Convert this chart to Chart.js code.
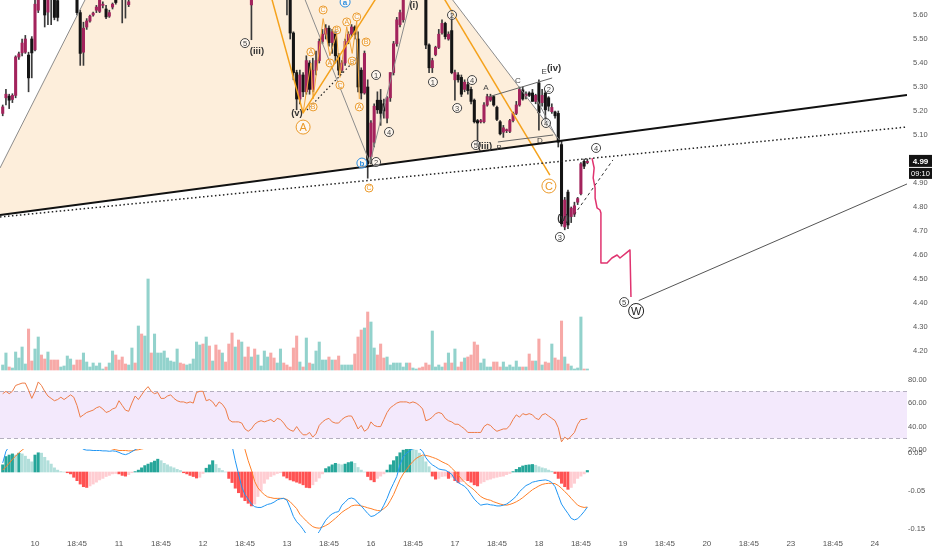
<!DOCTYPE html>
<html>
<head>
<meta charset="utf-8">
<script src="https://cdn.jsdelivr.net/npm/chart.js@4.4.1/dist/chart.umd.min.js"></script>
<style>
  html, body { margin: 0; padding: 0; background: #fff; }
  #wrap { position: relative; width: 932px; height: 550px; overflow: hidden; background: #fff; }
  #wrap canvas { position: absolute; left: 0; }
</style>
</head>
<body>
<div id="wrap">
  <canvas id="price" width="932" height="373" style="top:0px"></canvas>
  <canvas id="rsi" width="932" height="84" style="top:373px"></canvas>
  <canvas id="macd" width="932" height="101" style="top:449px"></canvas>
</div>
<script>
// ---- 15-minute bars, index 0 = first bar of the 10th ----
const firstBar = -10;

const opens = [
  5.19,5.255,5.262,5.248,5.265,5.425,5.442,5.445,5.433,5.50,
  5.455,5.62,5.72,5.69,5.612,5.70,5.69,5.66,5.67,5.71,
  5.75,5.77,5.79,5.72,5.61,5.445,5.55,5.575,5.60,5.62,
  5.615,5.64,5.625,5.595,5.633,5.67,5.70,5.70,5.69,5.643,
  5.67,5.71,5.69,5.77,5.74,5.79,5.88,5.85,5.91,5.93,
  5.94,5.955,5.96,5.975,5.98,6.01,5.99,5.98,5.99,5.99,
  6.01,6.04,6.06,6.00,6.04,5.98,5.995,5.95,5.92,5.95,
  5.93,5.85,5.78,5.81,5.74,5.77,5.73,5.642,5.71,5.69,
  5.74,5.755,5.785,5.795,5.77,5.75,5.765,5.79,5.75,5.68,
  5.525,5.36,5.25,5.35,5.28,5.40,5.29,5.37,5.41,5.49,
  5.52,5.545,5.485,5.53,5.43,5.37,5.40,5.49,5.52,5.55,
  5.50,5.37,5.275,5.30,5.01,5.07,5.245,5.245,5.23,5.17,
  5.255,5.36,5.48,5.56,5.58,5.68,5.73,5.72,5.75,5.78,
  5.73,5.69,5.475,5.38,5.435,5.465,5.525,5.565,5.50,5.535,
  5.33,5.35,5.34,5.29,5.31,5.29,5.245,5.16,5.155,5.155,
  5.225,5.245,5.26,5.215,5.155,5.112,5.118,5.115,5.16,5.19,
  5.225,5.288,5.262,5.275,5.275,5.24,5.317,5.235,5.275,5.255,
  5.197,5.196,5.19,5.06,4.717,4.862,4.76,4.77,4.82,4.855,
  4.99,4.985
];
const highs = [
  5.225,5.29,5.27,5.272,5.43,5.445,5.50,5.515,5.445,5.51,
  5.665,5.70,5.75,5.72,5.70,5.72,5.71,5.69,5.72,5.76,
  5.79,5.80,5.80,5.74,5.62,5.57,5.585,5.60,5.612,5.64,
  5.68,5.655,5.64,5.62,5.65,5.69,5.72,5.72,5.71,5.67,
  5.72,5.72,5.78,5.79,5.80,5.90,5.89,5.93,5.94,5.95,
  5.97,5.97,5.98,5.99,6.02,6.02,6.00,5.995,6.00,6.02,
  6.05,6.07,6.07,6.05,6.045,6.00,6.00,5.96,5.96,5.955,
  5.935,5.86,5.82,5.815,5.78,5.775,5.74,5.69,5.72,5.75,
  5.76,5.79,5.80,5.80,5.775,5.77,5.80,5.795,5.76,5.69,
  5.53,5.37,5.37,5.36,5.43,5.41,5.42,5.45,5.50,5.54,
  5.56,5.555,5.54,5.535,5.44,5.41,5.50,5.53,5.56,5.555,
  5.53,5.38,5.45,5.33,5.16,5.23,5.28,5.29,5.25,5.26,
  5.36,5.49,5.59,5.62,5.70,5.74,5.77,5.79,5.80,5.79,
  5.74,5.70,5.48,5.42,5.47,5.54,5.58,5.57,5.53,5.62,
  5.37,5.36,5.35,5.33,5.32,5.30,5.25,5.165,5.165,5.235,
  5.27,5.27,5.265,5.22,5.16,5.14,5.125,5.165,5.195,5.24,
  5.30,5.30,5.28,5.28,5.29,5.27,5.33,5.29,5.285,5.26,
  5.23,5.20,5.20,5.075,4.84,4.87,4.80,4.82,4.84,4.985,
  5.00,5.00
];
const lows = [
  5.18,5.225,5.21,5.235,5.255,5.415,5.43,5.44,5.28,5.338,
  5.45,5.61,5.675,5.55,5.56,5.56,5.58,5.575,5.668,5.70,
  5.73,5.75,5.70,5.60,5.39,5.39,5.54,5.57,5.595,5.61,
  5.61,5.63,5.585,5.59,5.625,5.645,5.665,5.567,5.587,5.635,
  5.668,5.68,5.685,5.72,5.73,5.78,5.84,5.84,5.89,5.91,
  5.92,5.94,5.95,5.96,5.97,5.98,5.97,5.97,5.98,5.985,
  6.00,6.03,5.99,5.99,5.97,5.97,5.94,5.91,5.91,5.92,
  5.84,5.77,5.77,5.73,5.73,5.72,5.67,5.497,5.67,5.685,
  5.73,5.75,5.77,5.76,5.74,5.745,5.76,5.74,5.60,5.50,
  5.33,5.205,5.23,5.26,5.27,5.27,5.28,5.35,5.40,5.48,
  5.50,5.47,5.44,5.40,5.35,5.36,5.39,5.48,5.51,5.50,
  5.28,5.25,5.27,4.92,4.98,5.05,5.19,5.14,5.17,5.15,
  5.24,5.35,5.47,5.55,5.57,5.67,5.70,5.71,5.74,5.72,
  5.67,5.46,5.36,5.36,5.43,5.46,5.52,5.50,5.495,5.355,
  5.245,5.32,5.26,5.28,5.27,5.23,5.15,5.06,5.15,5.15,
  5.22,5.24,5.22,5.16,5.10,5.09,5.11,5.11,5.155,5.185,
  5.22,5.245,5.25,5.26,5.24,5.23,5.12,5.22,5.15,5.20,
  5.19,5.17,5.05,4.72,4.705,4.71,4.735,4.76,4.81,4.85,
  4.96,4.98
];
const closes = [
  5.217,5.27,5.245,5.265,5.425,5.438,5.483,5.50,5.338,5.442,
  5.645,5.675,5.69,5.60,5.68,5.67,5.59,5.59,5.71,5.75,
  5.78,5.79,5.72,5.61,5.44,5.545,5.575,5.595,5.608,5.633,
  5.665,5.645,5.592,5.61,5.645,5.652,5.68,5.675,5.668,5.655,
  5.71,5.69,5.77,5.74,5.79,5.88,5.85,5.91,5.93,5.94,
  5.96,5.965,5.975,5.985,6.01,5.99,5.98,5.99,5.995,6.01,
  6.04,6.06,6.00,6.04,5.98,5.995,5.95,5.92,5.95,5.93,
  5.85,5.78,5.81,5.74,5.77,5.73,5.68,5.668,5.69,5.74,
  5.755,5.785,5.795,5.77,5.75,5.765,5.79,5.75,5.68,5.525,
  5.36,5.25,5.35,5.28,5.41,5.29,5.37,5.41,5.49,5.52,
  5.545,5.485,5.53,5.43,5.37,5.40,5.49,5.52,5.55,5.52,
  5.30,5.275,5.44,4.98,5.15,5.22,5.205,5.19,5.20,5.255,
  5.36,5.48,5.58,5.61,5.68,5.73,5.72,5.77,5.78,5.73,
  5.69,5.475,5.38,5.41,5.465,5.52,5.565,5.51,5.52,5.36,
  5.36,5.33,5.27,5.32,5.285,5.24,5.155,5.15,5.16,5.225,
  5.26,5.26,5.225,5.165,5.105,5.13,5.122,5.16,5.19,5.225,
  5.29,5.25,5.27,5.265,5.24,5.265,5.192,5.265,5.205,5.22,
  5.215,5.18,5.07,4.73,4.829,4.725,4.795,4.805,4.835,4.98,
  4.97,4.99
];
const volumes = [
  50,170,30,20,180,120,230,60,410,90,
  210,330,150,110,180,100,100,100,30,40,
  140,110,50,100,100,170,80,30,70,40,
  70,10,30,70,190,150,100,130,60,50,
  220,70,440,360,340,910,170,360,170,170,
  190,120,90,80,210,70,60,50,60,110,
  280,250,260,330,240,90,250,200,170,80,
  260,370,230,300,280,130,230,130,210,150,
  40,190,130,170,120,70,210,70,50,30,
  220,340,80,30,320,70,60,190,280,100,
  100,130,100,100,140,50,50,50,50,160,
  330,400,420,580,480,220,150,260,120,130,
  50,70,70,70,30,70,70,20,10,20,
  30,70,50,390,30,50,30,70,170,70,
  210,30,80,120,130,150,280,250,70,110,
  30,30,80,80,30,80,30,50,30,90,
  30,30,30,160,90,90,310,50,80,70,
  260,120,100,490,130,60,40,10,20,530,
  10,10
];
const rsiValues = [
  68,70,68,70,75,76,77,77,71,64,
  70,78,75,70,66,64,62,63,65,63,
  65,67,65,58,48,50,52,53,54,56,
  57,55,52,53,55,56,62,58,54,53,
  60,66,63,67,71,74,70,68,69,64,
  64,66,67,64,62,61,61,60,61,60,
  69,70,70,62,63,61,57,61,59,55,
  46,44,44,44,43,38,36,38,42,44,
  45,44,45,46,44,47,46,43,39,37,
  36,40,36,33,33,35,31,34,41,44,
  46,47,44,43,43,46,48,49,49,44,
  38,41,36,38,44,41,40,40,46,52,
  56,58,60,61,61,61,60,61,60,58,
  55,45,46,48,51,52,51,47,45,44,
  42,42,40,38,35,35,35,35,35,40,
  42,41,38,36,37,38,38,41,46,50,
  48,51,50,51,50,47,46,50,51,49,
  47,45,39,27,31,29,32,35,42,46,
  46,47
];
const macdLine = [
  0.024,0.055,0.068,0.082,0.087,0.101,0.106,0.107,0.105,0.103,
  0.126,0.138,0.143,0.137,0.132,0.126,0.118,0.113,0.109,0.108,
  0.105,0.101,0.090,0.079,0.067,0.060,0.058,0.058,0.057,0.057,
  0.057,0.056,0.056,0.055,0.056,0.055,0.052,0.048,0.046,0.049,
  0.054,0.059,0.064,0.072,0.080,0.087,0.094,0.102,0.111,0.111,
  0.107,0.106,0.103,0.102,0.099,0.097,0.091,0.088,0.083,0.079,
  0.073,0.073,0.082,0.096,0.107,0.121,0.113,0.104,0.098,0.094,
  0.085,0.070,0.030,-0.005,-0.040,-0.060,-0.072,-0.085,-0.092,-0.094,
  -0.094,-0.090,-0.086,-0.084,-0.080,-0.074,-0.071,-0.070,-0.075,-0.095,
  -0.118,-0.132,-0.141,-0.152,-0.165,-0.175,-0.178,-0.170,-0.158,-0.142,
  -0.128,-0.118,-0.111,-0.107,-0.105,-0.088,-0.080,-0.071,-0.069,-0.072,
  -0.082,-0.090,-0.100,-0.110,-0.118,-0.116,-0.110,-0.104,-0.088,-0.070,
  -0.048,-0.030,-0.012,0.020,0.040,0.050,0.056,0.062,0.065,0.062,
  0.055,0.038,0.027,0.019,0.014,0.008,0.006,0.005,0.0,-0.006,
  -0.020,-0.028,-0.033,-0.038,-0.047,-0.060,-0.072,-0.081,-0.088,-0.086,
  -0.085,-0.087,-0.088,-0.090,-0.090,-0.088,-0.085,-0.079,-0.072,-0.064,
  -0.052,-0.044,-0.036,-0.032,-0.027,-0.025,-0.023,-0.022,-0.021,-0.023,
  -0.028,-0.039,-0.062,-0.085,-0.098,-0.110,-0.123,-0.127,-0.124,-0.115,
  -0.105,-0.093
];
const signalLine = [
  0.005,0.014,0.023,0.034,0.042,0.051,0.058,0.065,0.071,0.076,
  0.081,0.087,0.093,0.098,0.102,0.105,0.107,0.108,0.108,0.108,
  0.107,0.106,0.104,0.102,0.099,0.099,0.099,0.095,0.089,0.084,
  0.078,0.073,0.068,0.064,0.061,0.059,0.057,0.057,0.057,0.056,
  0.056,0.058,0.059,0.061,0.063,0.066,0.069,0.073,0.077,0.081,
  0.084,0.087,0.089,0.091,0.092,0.093,0.093,0.093,0.092,0.091,
  0.089,0.087,0.086,0.086,0.088,0.091,0.093,0.094,0.094,0.094,
  0.094,0.093,0.090,0.085,0.075,0.060,0.030,0.005,-0.025,-0.042,
  -0.052,-0.060,-0.066,-0.068,-0.070,-0.070,-0.070,-0.070,-0.073,-0.079,
  -0.088,-0.097,-0.112,-0.121,-0.130,-0.138,-0.145,-0.148,-0.149,-0.146,
  -0.142,-0.137,-0.130,-0.123,-0.115,-0.107,-0.101,-0.096,-0.090,-0.088,
  -0.088,-0.090,-0.092,-0.095,-0.097,-0.100,-0.102,-0.103,-0.097,-0.090,
  -0.076,-0.060,-0.040,-0.020,-0.005,0.006,0.018,0.028,0.036,0.041,
  0.045,0.044,0.042,0.039,0.036,0.032,0.027,0.023,0.019,0.010,
  0.002,-0.008,-0.018,-0.027,-0.035,-0.041,-0.048,-0.057,-0.065,-0.070,
  -0.073,-0.075,-0.079,-0.082,-0.085,-0.087,-0.088,-0.086,-0.083,-0.079,
  -0.074,-0.068,-0.061,-0.054,-0.047,-0.042,-0.037,-0.033,-0.031,-0.030,
  -0.030,-0.031,-0.036,-0.043,-0.052,-0.060,-0.070,-0.079,-0.088,-0.092,
  -0.094,-0.093
];
const macdHist = [
  0.019,0.041,0.045,0.048,0.045,0.050,0.048,0.042,0.034,0.027,
  0.045,0.051,0.050,0.039,0.030,0.021,0.011,0.005,0.001,0.0,
  -0.002,-0.005,-0.014,-0.023,-0.032,-0.039,-0.041,-0.037,-0.032,-0.027,
  -0.021,-0.017,-0.012,-0.009,-0.005,-0.004,-0.005,-0.009,-0.011,-0.007,
  -0.002,0.001,0.005,0.011,0.017,0.021,0.025,0.029,0.034,0.030,
  0.023,0.019,0.014,0.011,0.007,0.004,-0.002,-0.005,-0.009,-0.012,
  -0.016,-0.014,-0.004,0.010,0.019,0.030,0.020,0.010,0.004,0.0,
  -0.017,-0.028,-0.043,-0.055,-0.067,-0.076,-0.083,-0.090,-0.085,-0.065,
  -0.050,-0.030,-0.019,-0.012,-0.008,-0.004,-0.002,-0.011,-0.016,-0.021,
  -0.024,-0.027,-0.030,-0.034,-0.041,-0.042,-0.034,-0.025,-0.016,-0.005,
  0.009,0.014,0.019,0.023,0.021,0.019,0.021,0.025,0.027,0.023,
  0.012,0.005,0.0,-0.012,-0.021,-0.026,-0.017,-0.011,-0.005,0.005,
  0.019,0.030,0.041,0.051,0.058,0.060,0.062,0.060,0.058,0.050,
  0.041,0.027,0.014,-0.011,-0.019,-0.017,-0.012,-0.011,-0.017,-0.014,
  -0.023,-0.028,-0.026,-0.021,-0.023,-0.027,-0.034,-0.037,-0.030,-0.026,
  -0.021,-0.019,-0.016,-0.014,-0.012,-0.011,-0.007,-0.004,0.001,0.007,
  0.012,0.016,0.018,0.019,0.020,0.018,0.014,0.011,0.009,0.005,
  0.002,-0.004,-0.017,-0.030,-0.039,-0.046,-0.041,-0.030,-0.017,-0.011,
  -0.005,0.004
];

// axis ticks and labels
const priceTicks = [4.2,4.3,4.4,4.5,4.6,4.7,4.8,4.9,5.0,5.1,5.2,5.3,5.4,5.5,5.6];
const rsiTicks = [20,40,60,80];
const macdTicks = [0.05,-0.05,-0.15];
const dayLabels = ['10','11','12','13','16','17','18','19','20','23','24'];
const midSessionLabel = '18:45';
const barsPerDay = 26;
const countdown = '09:10';

// visible window (bar index) and value ranges of each pane
const viewMin = -10.84, viewMax = 269.96;
const priceMin = 4.1083, priceMax = 5.6625;
const volMin = -30, volMax = 3700;
const rsiMin = 14.11, rsiMax = 85.6;
const macdMin = -0.1618, macdMax = 0.061;

// ---- wave-count drawings, anchored in (bar index, price) ----
const wedgeOutline = [[-10.84,4.9625],[23.3,5.871],[117.5,5.871],[162.54,5.0757],[-10.84,4.7667]];
const wedgeLeft = [[-10.84,4.9625],[23.3,5.871]];
const wedgeRight = [[117.5,5.871],[162.54,5.0757]];
const supportLine = [[-10.84,4.7667],[269.96,5.2667]];
const dottedSupport = [[-10.84,4.7583],[269.96,5.1333]];
const legIntoB = [[82.04,5.717],[103.7,4.983]];
const legOutOfB = [[103.7,4.983],[118.6,5.7875]];
const orangeAB = [[71.7,5.746],[83.0,5.192],[109.2,5.746]];
const orangeToC = [[123.2,5.746],[159.4,4.933]];
const orangeSubwaves = [[83.0,5.192],[85.4,5.40],[86.1,5.25],[89.2,5.585],[91.3,5.43],[93.4,5.52],[94.4,5.34],[96.5,5.55],[98.2,5.44],[99.6,5.575],[100.4,5.25]];
const dottedChannel = [[84.2,5.204],[99.7,5.421]];
const triangleUpper = [[140.2,5.258],[160.1,5.3375]];
const triangleLower = [[143.3,5.071],[160.4,5.10]];
const triangleLegE = [[155.4,5.246],[161.6,5.0875]];
const dashedRebound = [[166.9,4.767],[178.9,4.996]];
const projectedPath = [[172.45,5.004],[173.1,4.9625],[172.8,4.921],[173.4,4.879],[173.4,4.8375],[174.0,4.796],[174.9,4.7875],[175.2,4.775],[175.2,4.567],[177.1,4.567],[178.6,4.5875],[180.2,4.60],[181.1,4.5875],[182.97,4.608],[184.2,4.621],[184.5,4.425]];
const wRecovery = [[186.9,4.41],[269.96,4.896]];

const waveLabels = [
  ['5',65.0,5.483,'num'], ['(iii)',68.7,5.45,'deg'], ['(v)',81.1,5.192,'deg'],
  ['A',83.0,5.133,'orangeBig'], ['A',85.4,5.446,'orange'], ['B',86.1,5.217,'orange'],
  ['C',89.2,5.621,'orange'], ['A',91.3,5.40,'orange'], ['B',93.4,5.5375,'orange'],
  ['C',94.4,5.308,'orange'], ['A',96.5,5.571,'orange'], ['B',98.2,5.408,'orange'],
  ['C',99.6,5.592,'orange'], ['B',102.5,5.4875,'orange'], ['A',100.4,5.217,'orange'],
  ['C',103.4,4.879,'orange'], ['b',101.2,4.983,'blue'], ['a',96.0,5.654,'blue'],
  ['1',105.6,5.35,'num'], ['4',109.6,5.1125,'num'], ['2',105.6,4.9875,'num'],
  ['(i)',117.3,5.642,'deg'], ['1',123.2,5.321,'num'], ['2',129.1,5.60,'num'],
  ['3',130.7,5.2125,'num'], ['4',135.3,5.329,'num'], ['5',136.5,5.058,'num'],
  ['(iii)',139.3,5.054,'deg'], ['A',139.6,5.30,'letter'], ['B',143.7,5.05,'letter'],
  ['C',149.5,5.329,'letter'], ['D',156.3,5.079,'letter'], ['E',157.6,5.367,'letter'],
  ['(iv)',160.7,5.379,'deg'], ['2',159.1,5.2917,'num'], ['4',158.2,5.15,'num'],
  ['C',159.1,4.8875,'orangeBig'], ['(v)',163.5,4.754,'deg'], ['3',162.5,4.675,'num'],
  ['4',173.7,5.046,'num'], ['5',182.4,4.404,'num'], ['W',186.1,4.3667,'numBig']
];

// ---- rendering ----
const FONT = "'Liberation Sans', Arial, sans-serif";
Chart.defaults.font.family = FONT;
Chart.defaults.color = '#555';

const barX = opens.map((_, k) => firstBar + k);
const rising = opens.map((o, k) => closes[k] >= o);

function zeroPadding(s) { s.paddingTop = 0; s.paddingBottom = 0; s.paddingLeft = 0; s.paddingRight = 0; }

function rightAxis(min, max, tickValues, pad) {
  return {
    position: 'right', min, max,
    grid: { display: false, drawTicks: false },
    border: { display: false },
    ticks: { autoSkip: false, padding: pad, font: { size: 7.5 }, color: '#555',
             callback: v => Number(v).toFixed(2) },
    afterBuildTicks(s) { s.ticks = tickValues.map(v => ({ value: v })); },
    afterFit(s) { s.width = 25; zeroPadding(s); }
  };
}
function hiddenTime() {
  return { type: 'linear', min: viewMin, max: viewMax, offset: false, display: false };
}
const baseOptions = {
  responsive: false, animation: false, events: [], devicePixelRatio: 1,
  layout: { padding: 0 },
  plugins: { legend: { display: false }, tooltip: { enabled: false } }
};

function clipArea(ctx, a) { ctx.beginPath(); ctx.rect(a.left, a.top, a.right - a.left, a.bottom - a.top); ctx.clip(); }
function tracePath(chart, pts) {
  const sx = chart.scales.x, sy = chart.scales.y, ctx = chart.ctx;
  ctx.beginPath();
  pts.forEach(([i, p], n) => {
    const X = sx.getPixelForValue(i), Y = sy.getPixelForValue(p);
    if (n) ctx.lineTo(X, Y); else ctx.moveTo(X, Y);
  });
}
function strokePath(chart, pts, color, width, dash) {
  const ctx = chart.ctx;
  tracePath(chart, pts);
  ctx.setLineDash(dash || []);
  ctx.strokeStyle = color; ctx.lineWidth = width; ctx.stroke();
  ctx.setLineDash([]);
}

const labelStyles = {
  num:       { r: 4.5, color: '#444', font: '7.5px' },
  numBig:    { r: 7.5, color: '#222', font: '11px' },
  orange:    { r: 4,   color: '#eb9a2a', font: '7px' },
  orangeBig: { r: 7,   color: '#eb9a2a', font: '11px' },
  blue:      { r: 5,   color: '#2b8de0', font: 'bold 8px' },
  deg:       { r: 0,   color: '#333', font: 'bold 9.5px' },
  letter:    { r: 0,   color: '#444', font: '8px' }
};
function drawLabel(chart, [text, i, p, kind]) {
  const ctx = chart.ctx, st = labelStyles[kind];
  const X = chart.scales.x.getPixelForValue(i), Y = chart.scales.y.getPixelForValue(p);
  if (st.r) {
    ctx.beginPath(); ctx.arc(X, Y, st.r, 0, Math.PI * 2);
    ctx.fillStyle = 'rgba(255,255,255,0.55)'; ctx.fill();
    ctx.strokeStyle = st.color; ctx.lineWidth = 1; ctx.stroke();
  }
  ctx.fillStyle = st.color; ctx.font = st.font + ' ' + FONT;
  ctx.textAlign = 'center'; ctx.textBaseline = 'middle';
  ctx.fillText(text, X, Y + 0.5);
}

const waveDrawings = {
  id: 'waveDrawings',
  beforeDatasetsDraw(chart) {
    const ctx = chart.ctx;
    ctx.save(); clipArea(ctx, chart.chartArea);
    tracePath(chart, wedgeOutline); ctx.closePath();
    ctx.fillStyle = '#fdeedb'; ctx.fill();
    ctx.restore();
  },
  afterDatasetsDraw(chart) {
    const ctx = chart.ctx;
    ctx.save(); clipArea(ctx, chart.chartArea);
    ctx.lineJoin = 'round';
    strokePath(chart, wedgeLeft, '#8c8c8c', 1);
    strokePath(chart, wedgeRight, '#8c8c8c', 1);
    strokePath(chart, legIntoB, '#8c8c8c', 1);
    strokePath(chart, legOutOfB, '#8c8c8c', 1);
    strokePath(chart, orangeSubwaves, '#f2a53a', 1);
    strokePath(chart, orangeAB, '#f5a21c', 1.5);
    strokePath(chart, orangeToC, '#f5a21c', 1.5);
    strokePath(chart, dottedChannel, '#222', 1.2, [1.5, 2.5]);
    strokePath(chart, triangleUpper, '#666', 1);
    strokePath(chart, triangleLower, '#666', 1);
    strokePath(chart, triangleLegE, '#888', 1);
    strokePath(chart, dottedSupport, '#222', 1.5, [1.5, 2.5]);
    strokePath(chart, supportLine, '#111', 2);
    strokePath(chart, dashedRebound, '#333', 1, [3, 3]);
    strokePath(chart, projectedPath, '#e0336f', 1.5);
    strokePath(chart, wRecovery, '#555', 1);
    waveLabels.forEach(l => drawLabel(chart, l));
    ctx.restore();
  },
  afterDraw(chart) {
    const ctx = chart.ctx, a = chart.chartArea;
    const last = closes[closes.length - 1];
    const y = chart.scales.y.getPixelForValue(last);
    const x0 = a.right + 2, w = 23;
    ctx.save();
    ctx.fillStyle = '#131313';
    ctx.fillRect(x0, y - 6.5, w, 12);
    ctx.fillRect(x0, y + 6.5, w, 11);
    ctx.fillStyle = '#fff'; ctx.textAlign = 'center'; ctx.textBaseline = 'middle';
    ctx.font = 'bold 8px ' + FONT;
    ctx.fillText(last.toFixed(2), x0 + w / 2, y);
    ctx.font = '7.5px ' + FONT;
    ctx.fillText(countdown, x0 + w / 2, y + 12.5);
    ctx.restore();
  }
};

const upBody = '#a3235c', downBody = '#141414', wickColor = '#3a3a3a';
const volUp = 'rgba(38,166,154,0.5)', volDown = 'rgba(239,83,80,0.5)';

new Chart(document.getElementById('price'), {
  type: 'bar',
  data: { datasets: [
    { label: 'Volume', yAxisID: 'yVol', order: 3, grouped: false, barThickness: 2.4, clip: 0,
      data: barX.map((x, k) => ({ x, y: volumes[k] })),
      backgroundColor: rising.map(u => u ? volUp : volDown) },
    { label: 'Wick', yAxisID: 'y', order: 2, grouped: false, barThickness: 1, clip: 0,
      data: barX.map((x, k) => ({ x, y: [lows[k], highs[k]] })),
      backgroundColor: wickColor },
    { label: 'Body', yAxisID: 'y', order: 1, grouped: false, barThickness: 2.4, minBarLength: 1, clip: 0,
      data: barX.map((x, k) => ({ x, y: [opens[k], closes[k]] })),
      backgroundColor: rising.map(u => u ? upBody : downBody) }
  ]},
  options: Object.assign({}, baseOptions, {
    scales: {
      x: hiddenTime(),
      y: rightAxis(priceMin, priceMax, priceTicks, 6),
      yVol: { display: false, min: volMin, max: volMax }
    }
  }),
  plugins: [waveDrawings]
});

const rsiBand = {
  id: 'rsiBand',
  beforeDatasetsDraw(chart) {
    const ctx = chart.ctx, a = chart.chartArea, sy = chart.scales.y;
    const yTop = sy.getPixelForValue(70), yBot = sy.getPixelForValue(30);
    ctx.save();
    ctx.fillStyle = '#f3e9fc';
    ctx.fillRect(a.left, yTop, a.right - a.left, yBot - yTop);
    ctx.setLineDash([4, 3]); ctx.strokeStyle = '#b4afbf'; ctx.lineWidth = 1;
    [yTop, yBot].forEach(y => { ctx.beginPath(); ctx.moveTo(a.left, Math.round(y) + 0.5); ctx.lineTo(a.right, Math.round(y) + 0.5); ctx.stroke(); });
    ctx.restore();
  }
};
new Chart(document.getElementById('rsi'), {
  type: 'line',
  data: { datasets: [
    { label: 'RSI', data: barX.map((x, k) => ({ x, y: rsiValues[k] })),
      borderColor: '#ee7d48', borderWidth: 1, pointRadius: 0, tension: 0, clip: 0 }
  ]},
  options: Object.assign({}, baseOptions, {
    scales: { x: hiddenTime(), y: rightAxis(rsiMin, rsiMax, rsiTicks, 1) }
  }),
  plugins: [rsiBand]
});

const histColors = macdHist.map((h, k) => {
  const prev = k ? macdHist[k - 1] : h;
  if (h >= 0) return h >= prev ? '#26a69a' : '#b2dfdb';
  return h < prev ? '#ff5252' : '#ffcdd2';
});
const timeTicks = [];
for (let k = 0; k <= (dayLabels.length - 1) * 2; k++) timeTicks.push(k * barsPerDay / 2);

new Chart(document.getElementById('macd'), {
  type: 'bar',
  data: { datasets: [
    { type: 'bar', label: 'Histogram', order: 3, grouped: false, barThickness: 2.4, clip: 0,
      data: barX.map((x, k) => ({ x, y: macdHist[k] })), backgroundColor: histColors },
    { type: 'line', label: 'MACD', order: 1, clip: 0,
      data: barX.map((x, k) => ({ x, y: macdLine[k] })),
      borderColor: '#2196f3', borderWidth: 1, pointRadius: 0, tension: 0 },
    { type: 'line', label: 'Signal', order: 2, clip: 0,
      data: barX.map((x, k) => ({ x, y: signalLine[k] })),
      borderColor: '#ff7f27', borderWidth: 1, pointRadius: 0, tension: 0 }
  ]},
  options: Object.assign({}, baseOptions, {
    scales: {
      x: {
        type: 'linear', min: viewMin, max: viewMax, offset: false, position: 'bottom',
        grid: { display: false, drawTicks: false }, border: { display: false },
        ticks: { autoSkip: false, maxRotation: 0, padding: 6, font: { size: 8 }, color: '#555',
                 callback: (v) => { const n = Math.round(v / (barsPerDay / 2)); return n % 2 === 0 ? dayLabels[n / 2] : midSessionLabel; } },
        afterBuildTicks(s) { s.ticks = timeTicks.map(v => ({ value: v })); },
        afterFit(s) { s.height = 17; zeroPadding(s); }
      },
      y: rightAxis(macdMin, macdMax, macdTicks, 1)
    }
  })
});
</script>
</body>
</html>
